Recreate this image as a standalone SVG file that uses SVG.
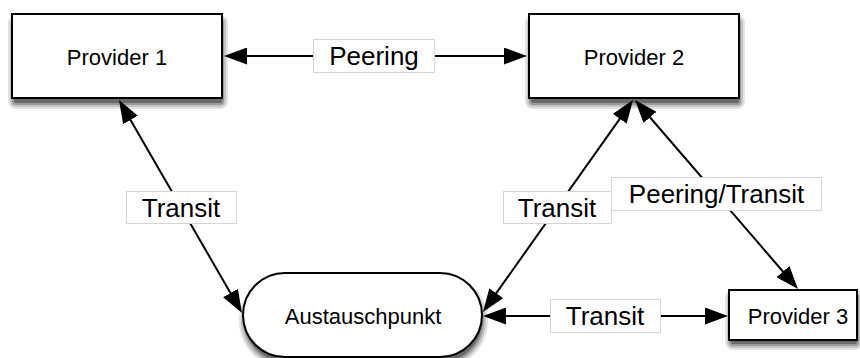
<svg xmlns="http://www.w3.org/2000/svg" width="860" height="358" viewBox="0 0 860 358">
  <style>
    .node { fill: #ffffff; stroke: #000000; stroke-width: 2; }
    .node-text { font-family: "Liberation Sans", Arial, sans-serif; font-size: 22px; fill: #000000; text-anchor: middle; }
    .edge { stroke: #000000; stroke-width: 2; fill: none; marker-start: url(#arrow); marker-end: url(#arrow); }
    .label-box { fill: #ffffff; stroke: #d4d4d4; stroke-width: 1; }
    .label-text { font-family: "Liberation Sans", Arial, sans-serif; font-size: 26px; fill: #000000; text-anchor: middle; }
    .s1 { fill: #e2e2e2; }
    .s2 { fill: #c4c4c4; }
    .s3 { fill: #9a9a9a; }
    .s4 { fill: #6a6a6a; }
  </style>
  <defs>
    <marker id="arrow" markerUnits="userSpaceOnUse" markerWidth="23" markerHeight="17" viewBox="0 0 23 17" refX="19" refY="8.5" orient="auto-start-reverse">
      <path d="M0,0 L23,8.5 L0,17 z" fill="#000000"/>
    </marker>
  </defs>

  <rect width="860" height="358" fill="#ffffff"/>

  <!-- nodes; each starts with a soft shadow made of graded layers -->
  <g id="provider1">
    <rect class="s1" x="8" y="15" width="220" height="94" rx="8"/>
    <rect class="s2" x="10" y="17" width="216" height="90" rx="6"/>
    <rect class="s3" x="12" y="19" width="212" height="86" rx="4"/>
    <rect class="s4" x="14" y="21" width="208" height="82" rx="2"/>
    <rect class="node" x="12" y="14" width="210" height="84"/>
    <text class="node-text" x="117" y="65">Provider 1</text>
  </g>
  <g id="provider2">
    <rect class="s1" x="525" y="15" width="220" height="94" rx="8"/>
    <rect class="s2" x="527" y="17" width="216" height="90" rx="6"/>
    <rect class="s3" x="529" y="19" width="212" height="86" rx="4"/>
    <rect class="s4" x="531" y="21" width="208" height="82" rx="2"/>
    <rect class="node" x="529" y="14" width="210" height="84"/>
    <text class="node-text" x="634" y="65">Provider 2</text>
  </g>
  <g id="provider3">
    <rect class="s1" x="725" y="290" width="138" height="60" rx="8"/>
    <rect class="s2" x="727" y="292" width="134" height="56" rx="6"/>
    <rect class="s3" x="729" y="294" width="130" height="52" rx="4"/>
    <rect class="s4" x="731" y="296" width="126" height="48" rx="2"/>
    <rect class="node" x="729" y="290" width="128" height="50"/>
    <text class="node-text" x="798" y="324">Provider 3</text>
  </g>
  <g id="austauschpunkt">
    <rect class="s1" x="239" y="274" width="249" height="94" rx="47"/>
    <rect class="s2" x="241" y="276" width="245" height="90" rx="45"/>
    <rect class="s3" x="243" y="278" width="241" height="86" rx="43"/>
    <rect class="s4" x="245" y="280" width="237" height="82" rx="41"/>
    <rect class="node" x="243" y="273" width="239" height="84" rx="42" ry="42"/>
    <text class="node-text" x="363" y="324">Austauschpunkt</text>
  </g>

  <!-- connectors with their labels -->
  <g id="connectors">
    <line class="edge" x1="228" y1="56" x2="523" y2="56"/>
    <line class="edge" x1="121" y1="103.5" x2="240" y2="309.5"/>
    <line class="edge" x1="630.7" y1="103.3" x2="485.3" y2="308.7"/>
    <line class="edge" x1="637.6" y1="103" x2="795.4" y2="286"/>
    <line class="edge" x1="487" y1="316" x2="724" y2="316"/>

    <g id="label-peering">
      <rect class="label-box" x="313.5" y="39.5" width="121" height="33"/>
      <text class="label-text" x="374" y="65">Peering</text>
    </g>
    <g id="label-transit-left">
      <rect class="label-box" x="126.5" y="191.5" width="110" height="32"/>
      <text class="label-text" x="181" y="216.5">Transit</text>
    </g>
    <g id="label-transit-mid">
      <rect class="label-box" x="503.5" y="191.5" width="108" height="32"/>
      <text class="label-text" x="557" y="216.5">Transit</text>
    </g>
    <g id="label-peering-transit">
      <rect class="label-box" x="611.5" y="177.5" width="210" height="33"/>
      <text class="label-text" x="716.5" y="203">Peering/Transit</text>
    </g>
    <g id="label-transit-bottom">
      <rect class="label-box" x="550.5" y="299.5" width="110" height="33"/>
      <text class="label-text" x="605" y="325">Transit</text>
    </g>
  </g>
</svg>
